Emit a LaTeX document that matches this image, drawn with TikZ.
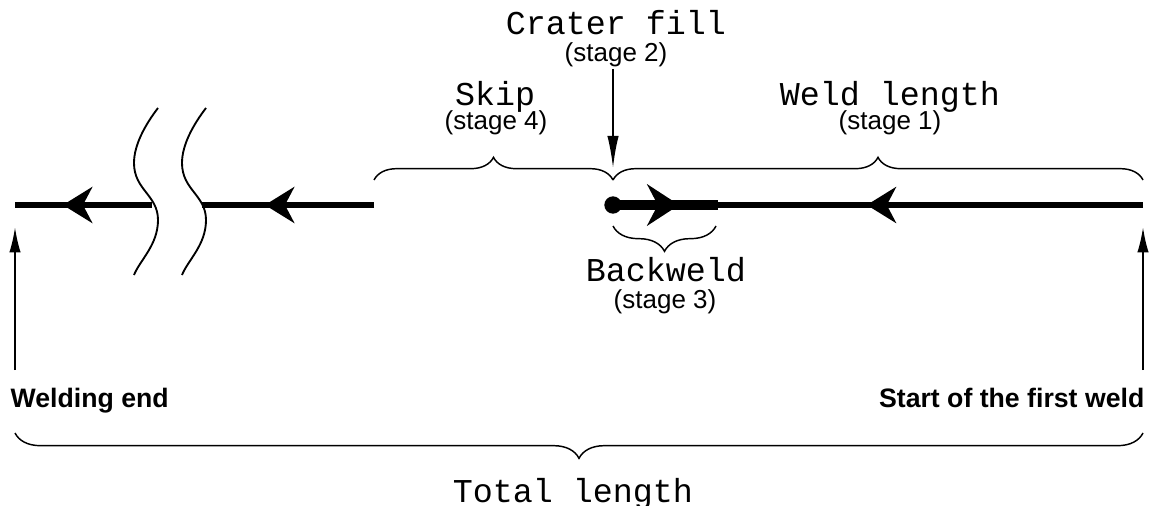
\documentclass[tikz,border=0pt]{standalone}
\usepackage{fontspec}
\setmainfont{Liberation Sans}
\newfontfamily\pixfont{Liberation Mono}
\usetikzlibrary{arrows.meta,decorations.pathreplacing,decorations.markings}

\tikzset{
  weld/.style={line width=4.6pt},
  backw/.style={line width=7pt},
  wave/.style={line width=1.4pt},
  pointer/.style={line width=1.5pt,-{Latex[length=#1,width=8.5pt]}},
  pointer/.default=19pt,
  brace/.style={decorate,decoration={brace,amplitude=#1},line width=1.1pt},
  dirarrow/.style={postaction=decorate,decoration={markings,
    mark=at position #1 with {\arrow{Stealth[length=22pt,width=27pt,inset=7pt]}}}},
  bigarrow/.style={postaction=decorate,decoration={markings,
    mark=at position #1 with {\arrow{Stealth[length=24pt,width=31pt,inset=8pt]}}}},
  title/.style={font=\pixfont\fontsize{25}{28}\selectfont,anchor=base,inner sep=1pt},
  stage/.style={font=\fontsize{19.5}{22}\selectfont,anchor=base,inner sep=1pt},
  endlabel/.style={font=\bfseries\fontsize{20}{23}\selectfont}
}

\begin{document}
\begin{tikzpicture}[x=0.75pt,y=-0.75pt]
\useasboundingbox (0,0) rectangle (1152,506);
% points on the weld line
\coordinate (weldend) at (15,205);
\coordinate (cutA) at (152,205);
\coordinate (cutB) at (202,205);
\coordinate (skipend) at (374,205);
\coordinate (crater) at (613,205);
\coordinate (backend) at (718,205);
\coordinate (weldstart) at (1143,205);
% weld line
\draw[weld,dirarrow=0.65] (cutA) -- (weldend);
\draw[weld,dirarrow=0.634] (skipend) -- (cutB);
\draw[weld,dirarrow=0.65] (weldstart) -- (backend);
\draw[backw,bigarrow=0.63] (crater) -- (backend);
\fill (crater) circle (6.5pt);
% break marks
\draw[wave] (158,108) .. controls (145,125) and (134,145) .. (134,163) .. controls (134,190) and (158,195) .. (158,220) .. controls (158,245) and (140,260) .. (134,275);
\draw[wave] (206,108) .. controls (193,125) and (182,145) .. (182,163) .. controls (182,190) and (206,195) .. (206,220) .. controls (206,245) and (188,260) .. (182,275);
% braces
\coordinate (skipL) at (374,180);
\coordinate (skipR) at (613,180);
\coordinate (weldR) at (1143,180);
\coordinate (backL) at (613,226);
\coordinate (backR) at (716,226);
\coordinate (totalL) at (15,433);
\coordinate (totalR) at (1143,433);
\draw[brace=17pt] (skipL) -- (skipR);
\draw[brace=17pt] (skipR) -- (weldR);
\draw[brace=19pt] (backR) -- (backL);
\draw[brace=19pt] (totalR) -- (totalL);
% labels
\node[title] (craterlbl) at (616,35) {Crater fill};
\node[stage] (stage2) at (616,62) {(stage 2)};
\node[title] (skiplbl) at (495,106) {Skip};
\node[stage] (stage4) at (496,130) {(stage 4)};
\node[title] (weldlbl) at (890,106) {Weld length};
\node[stage] (stage1) at (890,130) {(stage 1)};
\node[title] (backlbl) at (666,281) {Backweld};
\node[stage] (stage3) at (665,308) {(stage 3)};
\node[title] (totallbl) at (573,502) {Total length};
\node[endlabel,anchor=base west] (endlbl) at (6,407) {Welding end};
\node[endlabel,anchor=base east] (startlbl) at (1149,407) {Start of the first weld};
% pointers
\coordinate (craterpt) at (613,168);
\coordinate (endfoot) at (15,370);
\coordinate (endtip) at (15,227);
\coordinate (startfoot) at (1143,370);
\coordinate (starttip) at (1143,227);
\draw[pointer=24pt] (craterpt |- stage2.south) -- (craterpt);
\draw[pointer] (endfoot) -- (endtip);
\draw[pointer] (startfoot) -- (starttip);
\end{tikzpicture}
\end{document}
